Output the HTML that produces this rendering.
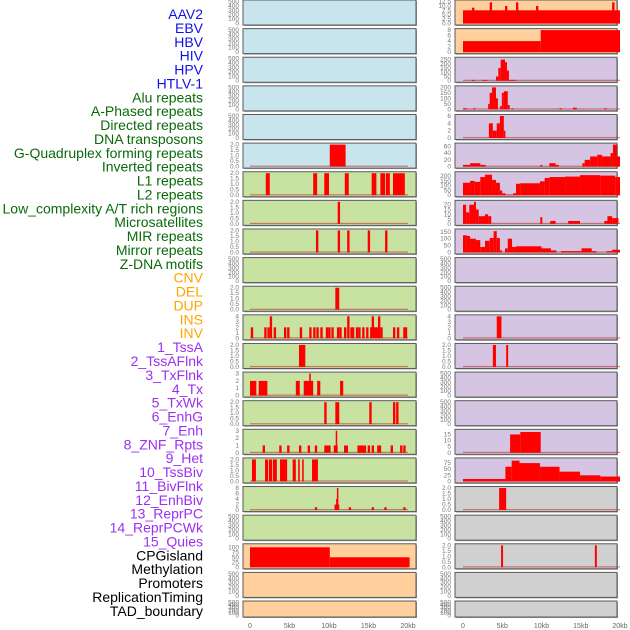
<!DOCTYPE html>
<html><head><meta charset="utf-8"><style>
html,body{margin:0;padding:0;background:#fff;width:630px;height:630px;overflow:hidden}
svg{display:block;font-family:"Liberation Sans",sans-serif}
</style></head><body>
<svg id="chart" width="630" height="630" viewBox="0 0 630 630"></svg>
<script>
const featureLabels=["AAV2","EBV","HBV","HIV","HPV","HTLV-1","Alu repeats","A-Phased repeats","Directed repeats","DNA transposons","G-Quadruplex forming repeats","Inverted repeats","L1 repeats","L2 repeats","Low_complexity A/T rich regions","Microsatellites","MIR repeats","Mirror repeats","Z-DNA motifs","CNV","DEL","DUP","INS","INV","1_TssA","2_TssAFlnk","3_TxFlnk","4_Tx","5_TxWk","6_EnhG","7_Enh","8_ZNF_Rpts","9_Het","10_TssBiv","11_BivFlnk","12_EnhBiv","13_ReprPC","14_ReprPCWk","15_Quies","CPGisland","Methylation","Promoters","ReplicationTiming","TAD_boundary"];
const labelGroups=[6,13,5,15,5];
const groupColors=["#1010e8","#0a6a0a","#ffa500","#9b30f0","#000000"];
const xTickValues=[0,5,10,15,20];
const xTickLabels=["0","5kb","10kb","15kb","20kb"];
const leftBg=["#c8e4ec","#c8e4ec","#c8e4ec","#c8e4ec","#c8e4ec","#c8e4ec","#c8e2a2","#c8e2a2","#c8e2a2","#c8e2a2","#c8e2a2","#c8e2a2","#c8e2a2","#c8e2a2","#c8e2a2","#c8e2a2","#c8e2a2","#c8e2a2","#c8e2a2","#ffd09c","#ffd09c","#ffd09c"];
const rightBg=["#ffd09c","#ffd09c","#d5c5e2","#d5c5e2","#d5c5e2","#d5c5e2","#d5c5e2","#d5c5e2","#d5c5e2","#d5c5e2","#d5c5e2","#d5c5e2","#d5c5e2","#d5c5e2","#d5c5e2","#d5c5e2","#d5c5e2","#d0d0d0","#d0d0d0","#d0d0d0","#d0d0d0","#d0d0d0"];
const E=[0,100,200,300,400,500], T2=[0,0.5,1,1.5,2];
const leftTicks=[E,E,E,E,E,T2,T2,T2,T2,E,T2,[0,1,2,3,4],T2,[0,1,2,3],T2,[0,1,2,3],T2,[0,2,4,6,8],E,[0,25,50,75,100],E,E];
const leftMax=[500,500,500,500,500,2,2,2,2,500,2,4,2,3,2,3,2,8,500,110,500,500];
const rightTicks=[[0,2.5,5,7.5,10,12.5],[0,2,4,6,8],[0,50,100,150,200,250],[0,50,100,150,200],[0,2,4,6],[0,20,40,60],[0,50,100,150,200],[0,5,10,15,20],[0,50,100,150],E,E,[0,1,2,3,4],T2,E,E,[0,5,10,15],[0,25,50,75],T2,E,T2,E,E];
const rightMax=[12.5,8,260,200,6,65,230,23,160,500,500,4,2,500,500,18,90,2,500,2,500,500];
function pts(list,w,v){return list.map(k=>[k,k+w,v]);}
const leftBars=[[],[],[],[],[],
[[10.1,12.1,2]],
[[2.0,2.5,2],[8.0,8.5,2],[9.4,10.0,2],[12.0,12.5,2],[15.4,16.0,2],[16.5,17.1,2],[17.2,17.7,2],[18.1,19.6,2]],
[[11.1,11.4,2]],
[[8.35,8.65,2],[11.1,11.4,2],[12.3,12.6,2],[14.9,15.2,2],[17.1,17.4,2]],
[],
[[10.8,11.3,2]],
[[0.1,0.4,2],[1.8,2.1,2],[2.2,2.5,2],[2.5,2.8,4],[3.0,3.3,2],[4.3,4.6,2],[4.7,5.0,2],[6.3,6.6,2],[7.5,7.8,2],[8.0,8.3,2],[8.4,8.7,2],[8.9,9.2,2],[9.6,9.9,2],[9.9,10.2,2],[10.3,10.6,2],[11.0,11.3,2],[11.3,11.6,2],[11.9,12.2,2],[12.3,12.6,4],[12.7,13.0,2],[12.9,13.2,2],[13.4,13.7,2],[13.7,14.0,2],[14.2,14.5,2],[14.7,15.0,2],[15.2,15.5,2],[15.4,15.7,4],[15.7,16.0,2],[15.9,16.2,2],[16.2,16.5,4],[16.5,16.8,2],[18.1,18.4,2],[18.6,18.9,2],[19.4,19.7,2],[19.6,19.9,2]],
[[6.2,7.0,2]],
[[0,0.8,2],[1.1,2.2,2],[5.8,6.3,2],[6.8,8.0,2],[7.5,7.7,3],[8.5,8.9,2],[11.4,11.8,2]],
[[9.4,9.7,2],[10.8,11.3,2],[15.1,15.4,2],[18.1,18.4,2],[18.5,18.8,2]],
[[1.6,1.9,1],[3.7,4.0,1],[4.7,5.0,1],[6.2,6.5,1],[7.3,7.6,1],[8.2,8.5,1],[9.4,10.2,1],[10.6,11.1,1],[10.85,11.0,3],[11.9,12.4,1],[13.6,14.7,1],[14.9,15.2,1],[15.4,15.7,1],[16.1,16.6,1],[17.8,18.1,1],[19.0,19.3,1],[19.4,19.7,1]],
[[0.25,0.75,2],[1.9,2.3,2],[2.4,2.8,2],[2.9,3.4,2],[3.8,4.7,2],[5.4,5.8,2],[6.1,6.3,2],[6.6,6.8,2],[7.85,8.6,2]],
[[8.2,8.5,1],[10.7,11.3,2],[10.9,11.1,4],[11.0,11.1,8],[12.5,12.8,1],[15.4,15.7,1],[17.0,17.3,1],[19.4,19.7,1]],
[],
[[0,10.1,100],[10.1,20.2,50]],
[],[]];
const rightBars=[
[[0,20,7.5],[1.15,1.45,9],[3.4,3.7,12],[5.35,5.65,10],[6.75,7.05,12],[9.3,9.6,10],[19.0,19.3,12]],
[[0,9.9,4],[9.9,20,8]],
[[1.1,1.5,10],[2.5,3.1,10],[4.2,4.5,50],[4.5,4.8,150],[4.8,5.35,250],[5.35,5.6,220],[5.6,5.85,120],[5.85,6.7,10]],
[[0,0.5,10],[1.3,1.6,10],[3.2,3.4,50],[3.4,3.7,150],[3.7,4.2,200],[4.2,4.45,100],[4.7,4.95,30],[4.95,5.2,150],[5.2,5.7,165],[5.7,5.95,40],[6.2,6.4,10],[12.3,12.6,10],[14.0,14.5,15],[18.0,18.3,10]],
[[3.3,3.8,4],[3.8,4.3,2],[4.3,4.7,4],[4.7,5.2,6],[5.2,5.4,2]],
[[0,0.9,5],[0.9,2.2,10],[2.2,2.9,5],[9.85,10.1,5],[11.0,11.8,10],[11.8,12.2,5],[15.2,15.5,10],[15.5,16.2,20],[16.2,17.1,30],[17.1,17.7,35],[17.7,18.8,30],[18.8,19.1,40],[19.1,19.6,65],[19.6,20,30]],
[[0,0.9,130],[0.9,1.5,150],[1.5,2.2,140],[2.2,2.8,190],[2.8,3.7,215],[3.7,4.2,160],[4.2,4.7,130],[4.7,5.0,50],[5.0,5.4,20],[5.4,6.4,5],[6.4,6.75,20],[6.75,7.3,120],[7.3,9.8,125],[9.8,10.4,145],[10.4,11.0,180],[11.0,13.0,190],[13.0,14.9,195],[14.9,17.5,210],[17.5,19.4,205],[19.4,20,190]],
[[0,0.4,20],[0.4,0.8,12],[0.8,1.4,20],[1.4,1.65,23],[1.65,2.0,15],[2.0,2.3,8],[2.3,2.8,8],[2.8,3.2,10],[3.2,3.6,8],[9.85,10.1,7],[11.1,11.8,3],[13.4,14.9,3],[18.0,18.4,3],[18.4,19.0,8],[19.0,19.8,6]],
[[0,0.5,125],[0.5,0.9,120],[0.9,1.65,100],[1.65,2.2,90],[2.2,2.8,40],[2.8,3.4,85],[3.4,3.9,105],[3.9,4.3,155],[4.3,4.7,105],[4.7,4.95,15],[5.35,5.7,30],[5.7,6.25,100],[6.25,6.75,40],[6.75,10.0,45],[10.0,11.2,30],[11.2,11.9,15],[12.5,15.1,10],[15.1,16.4,30],[16.4,17.0,10],[18.3,19.0,10],[19.0,20,20]],
[],[],
[[4.3,4.9,4]],
[[3.8,4.2,2],[5.5,5.75,2]],
[],[],
[[6.0,7.3,15],[7.3,9.9,17]],
[[0,5.4,10],[5.4,6.2,60],[6.2,7.2,85],[7.2,9.8,75],[9.8,12.3,60],[12.3,14.9,40],[14.9,17.5,25],[17.5,20,20]],
[[4.6,5.5,2]],
[],
[[4.85,5.1,2],[16.8,17.05,2]],
[],[]];

const NS="http://www.w3.org/2000/svg";
const svg=document.getElementById('chart');
function mk(tag,attrs,parent){const e=document.createElementNS(NS,tag);for(const k in attrs)e.setAttribute(k,attrs[k]);(parent||svg).appendChild(e);return e;}
// labels
let idx=0;
labelGroups.forEach((n,g)=>{for(let i=0;i<n;i++){const t=mk('text',{x:203,y:14+idx*13.88+5,'text-anchor':'end','font-size':'14',fill:groupColors[g]});t.textContent=featureLabels[idx];


idx++;}});
const cols=[{x0:243,x1:416,zx:250,sx:7.9,tx:239,bg:leftBg,ticks:leftTicks,max:leftMax,bars:leftBars,name:'left'},
{x0:455,x1:617,zx:463,sx:7.85,tx:451,bg:rightBg,ticks:rightTicks,max:rightMax,bars:rightBars,name:'right'}];
function fmt(v,ticks){const frac=ticks.some(t=>t%1!==0);if(!frac)return String(v);return ticks.some(t=>(t*10)%1!==0)?v.toFixed(1):v.toFixed(1);}
cols.forEach(c=>{
 const xs=k=>c.zx+k*c.sx;
 for(let r=0;r<22;r++){
  const top=r*28.62, h=(r===21)?16:25;
  const g=mk('g',{});
  
  
  mk('rect',{x:c.x0+1,y:top+1,width:c.x1-c.x0,height:h,fill:'#999'},g);
  mk('rect',{x:c.x0,y:top,width:c.x1-c.x0,height:h,fill:c.bg[r],stroke:'#5a5a5a','stroke-width':1},g);
  const y0=top+h-1.5, yt=top+1.5, mx=c.max[r];
  const ys=v=>y0-(v/mx)*(y0-yt);
  c.ticks[r].forEach(v=>{const t=mk('text',{x:c.tx,y:ys(v)+2,'text-anchor':'end','font-size':'6.5',fill:'#777'},g);t.textContent=fmt(v,c.ticks[r]);
   
   });
  const bars=c.bars[r];
  if(bars.length){
   mk('rect',{x:xs(0),y:y0-1,width:xs(20)-xs(0),height:1.2,fill:'#c03030',opacity:0.6},g);
   bars.forEach(b=>{const x=xs(b[0]),w=Math.max(1.5,xs(b[1])-xs(b[0]));const yy=ys(b[2]);
    const rct=mk('rect',{x:x,y:yy,width:w,height:y0-yy,fill:'#ff0000'},g);
    
    });
  }
 }
 xTickValues.forEach((v,i)=>{const t=mk('text',{x:xs(v),y:628,'text-anchor':'middle','font-size':'7',fill:'#666'});t.textContent=xTickLabels[i];
  
  });
});
</script>
</body></html>
